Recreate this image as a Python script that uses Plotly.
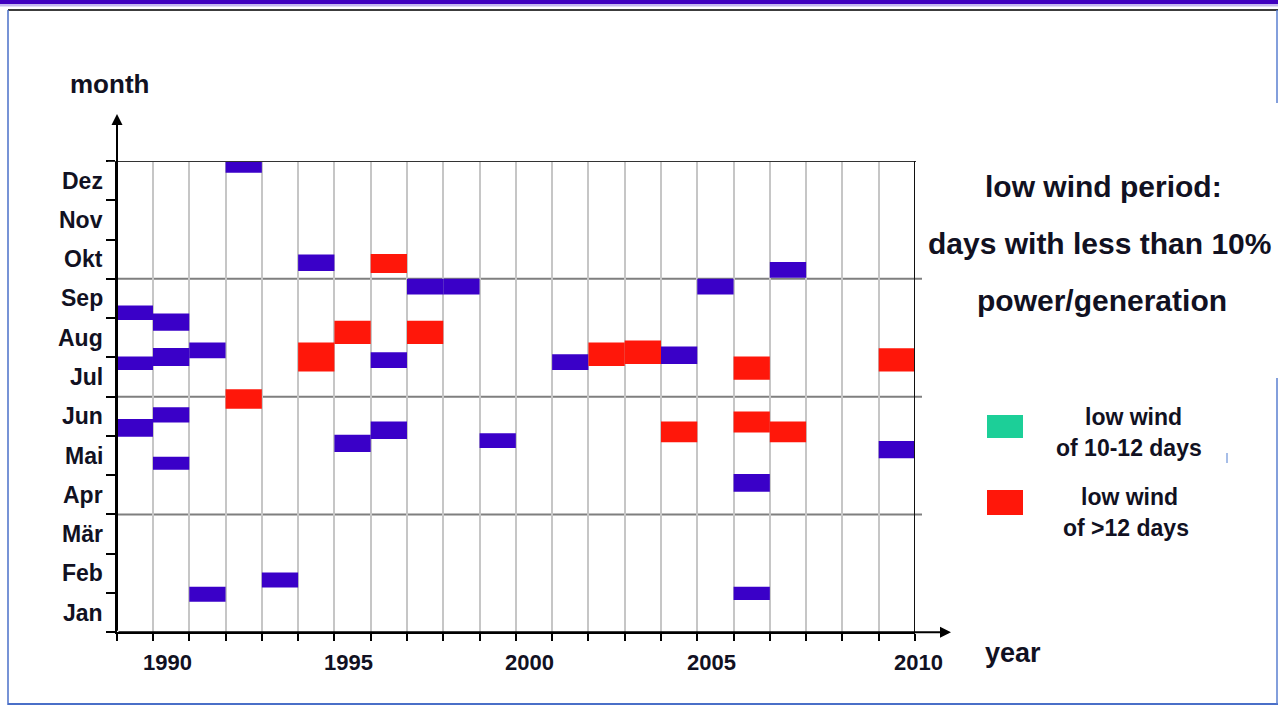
import plotly.graph_objects as go

W, H = 1278, 707

# ---------------- data ----------------
months = ["Jan", "Feb", "Mär", "Apr", "Mai", "Jun", "Jul", "Aug", "Sep", "Okt", "Nov", "Dez"]
year_ticks = [1990, 1995, 2000, 2005, 2010]

# low wind periods (month position: 0 = start of Jan, 12 = end of Dez)
blue_years = [1992, 1994, 1997, 1998, 1989, 1990, 1991, 1990, 1989, 1996, 2001, 2004, 2005,
              2007, 1989, 1990, 1990, 1995, 1996, 1999, 1991, 1993, 2010, 2006, 2006]
blue_start = [11.70, 9.20, 8.60, 8.60, 7.95, 7.68, 6.98, 6.78, 6.68, 6.73, 6.68, 6.83, 8.60,
              9.03, 4.98, 5.34, 4.14, 4.59, 4.92, 4.69, 0.78, 1.14, 4.43, 3.58, 0.82]
blue_end = [12.00, 9.62, 9.00, 9.00, 8.32, 8.12, 7.38, 7.24, 7.02, 7.13, 7.08, 7.28, 9.00,
            9.43, 5.43, 5.73, 4.47, 5.03, 5.37, 5.07, 1.16, 1.52, 4.87, 4.03, 1.16]

# low wind of 10-12 days (none shown)
green_years = []
green_start = []
green_end = []

# low wind of >12 days
red_years = [1996, 1995, 1997, 1994, 1992, 2002, 2003, 2006, 2010, 2004, 2006, 2007]
red_start = [9.15, 7.34, 7.34, 6.64, 5.69, 6.78, 6.83, 6.43, 6.64, 4.84, 5.09, 4.84]
red_end = [9.63, 7.93, 7.93, 7.38, 6.19, 7.38, 7.43, 7.02, 7.23, 5.37, 5.62, 5.37]

BLUE = "#3a00c8"
GREEN = "#1ccf98"
RED = "#ff170a"
FONT = "Liberation Sans, Arial, sans-serif"
TXT = "#111122"


def px(x):
    return x / W


def py(y):
    return 1 - y / H


fig = go.Figure()


def add_bars(years, start, end, color):
    fig.add_trace(go.Bar(
        x=years,
        y=[e - s for s, e in zip(start, end)],
        base=start,
        width=1,
        marker=dict(color=color, line=dict(width=0)),
        showlegend=False,
        hoverinfo="skip",
    ))


add_bars(blue_years, blue_start, blue_end, BLUE)
add_bars(green_years, green_start, green_end, GREEN)
add_bars(red_years, red_start, red_end, RED)

x0_px, x1_px = 116.7, 915.0
y_bot_px, y_top_px = 632.3, 161.0

shapes = []
annotations = []

# quarter lines
for q in [3, 6, 9]:
    shapes.append(dict(type="line", xref="paper", yref="y", x0=px(117), x1=px(922), y0=q, y1=q,
                       line=dict(color="#7f7f7f", width=2), layer="below"))
# top frame line
shapes.append(dict(type="line", xref="paper", yref="y", x0=px(108), x1=px(916), y0=12, y1=12,
                   line=dict(color="#333333", width=2)))
# right frame line
shapes.append(dict(type="line", xref="x", yref="y", x0=2010.5, x1=2010.5, y0=0, y1=12,
                   line=dict(color="#111111", width=2)))

# page decorations
shapes += [
    dict(type="rect", xref="paper", yref="paper", x0=0, x1=1, y0=py(4), y1=1,
         fillcolor="#4000bf", line=dict(width=0)),
    dict(type="rect", xref="paper", yref="paper", x0=0, x1=1, y0=py(6.5), y1=py(4),
         fillcolor="#c4b8ee", line=dict(width=0)),
    dict(type="line", xref="paper", yref="paper", x0=px(8), x1=1, y0=py(10), y1=py(10),
         line=dict(color="#3c3c3c", width=2)),
    dict(type="line", xref="paper", yref="paper", x0=px(8), x1=px(8), y0=py(10), y1=py(705),
         line=dict(color="#4a6fc8", width=1.5)),
    dict(type="line", xref="paper", yref="paper", x0=px(8), x1=1, y0=py(704), y1=py(704),
         line=dict(color="#4a6fc8", width=2)),
    dict(type="line", xref="paper", yref="paper", x0=px(1277), x1=px(1277), y0=py(10), y1=py(103),
         line=dict(color="#5a7fd0", width=1.5)),
    dict(type="line", xref="paper", yref="paper", x0=px(1277), x1=px(1277), y0=py(378), y1=py(704),
         line=dict(color="#5a7fd0", width=1.5)),
    dict(type="line", xref="paper", yref="paper", x0=px(1227), x1=px(1227), y0=py(453), y1=py(463),
         line=dict(color="#8aa8e0", width=1.5)),
]

# legend swatches
shapes += [
    dict(type="rect", xref="paper", yref="paper", x0=px(987), x1=px(1023), y0=py(438), y1=py(415),
         fillcolor=GREEN, line=dict(width=0)),
    dict(type="rect", xref="paper", yref="paper", x0=px(987), x1=px(1023), y0=py(515), y1=py(490),
         fillcolor=RED, line=dict(width=0)),
]

# axis arrows
annotations.append(dict(xref="paper", yref="paper", x=px(951), y=py(y_bot_px), ax=-(951 - 117), ay=0,
                        axref="pixel", ayref="pixel", text="", showarrow=True, arrowhead=2,
                        arrowsize=1.1, arrowwidth=2, arrowcolor="#000000"))
annotations.append(dict(xref="paper", yref="paper", x=px(117), y=py(114), ax=0, ay=(y_bot_px - 114),
                        axref="pixel", ayref="pixel", text="", showarrow=True, arrowhead=2,
                        arrowsize=1.1, arrowwidth=2, arrowcolor="#000000"))

# month labels
for i, m in enumerate(months):
    annotations.append(dict(xref="paper", yref="y", x=px(105), y=i + 0.5, text="<b>%s</b>" % m,
                            showarrow=False, xanchor="right", yanchor="middle",
                            font=dict(family=FONT, size=23, color=TXT)))

# year labels
for yv in year_ticks:
    shift = 22 if yv == year_ticks[-1] else -4
    annotations.append(dict(xref="x", yref="paper", x=yv, y=py(662), xshift=shift, text="<b>%d</b>" % yv,
                            showarrow=False, xanchor="center", yanchor="middle",
                            font=dict(family=FONT, size=22, color=TXT)))

# axis titles
annotations.append(dict(xref="paper", yref="paper", x=px(109), y=py(84), text="<b>month</b>",
                        showarrow=False, xanchor="center", yanchor="middle",
                        font=dict(family=FONT, size=26, color=TXT)))
annotations.append(dict(xref="paper", yref="paper", x=px(1013), y=py(653), text="<b>year</b>",
                        showarrow=False, xanchor="center", yanchor="middle",
                        font=dict(family=FONT, size=27, color=TXT)))

# legend title
for txt, yc, xc in [("low wind period:", 187, 1103), ("days with less than 10%", 243, 1099),
                    ("power/generation", 301, 1102)]:
    annotations.append(dict(xref="paper", yref="paper", x=px(xc), y=py(yc), text="<b>%s</b>" % txt,
                            showarrow=False, xanchor="center", yanchor="middle",
                            font=dict(family=FONT, size=30, color=TXT)))

# legend items
for txt, yc, xc in [("low wind", 417, 1133), ("of 10-12 days", 448, 1129),
                    ("low wind", 497, 1129), ("of >12 days", 528, 1126)]:
    annotations.append(dict(xref="paper", yref="paper", x=px(xc), y=py(yc), text="<b>%s</b>" % txt,
                            showarrow=False, xanchor="center", yanchor="middle",
                            font=dict(family=FONT, size=23, color=TXT)))

half_years = [1988.5 + k for k in range(23)]

fig.update_layout(
    width=W, height=H,
    margin=dict(l=0, r=0, t=0, b=0),
    paper_bgcolor="white", plot_bgcolor="white",
    barmode="overlay",
    showlegend=False,
    shapes=shapes,
    annotations=annotations,
    xaxis=dict(domain=[px(x0_px), px(x1_px)], range=[1988.5, 2010.5], tickvals=half_years,
               showticklabels=False, ticks="outside", ticklen=7, tickwidth=2, tickcolor="#000000",
               showgrid=True, gridcolor="#c6c6c6", gridwidth=1.5, zeroline=False,
               showline=True, linecolor="#000000", linewidth=2, fixedrange=True),
    yaxis=dict(domain=[py(y_bot_px), py(y_top_px)], range=[0, 12], tickvals=list(range(13)),
               showticklabels=False, ticks="outside", ticklen=9, tickwidth=2, tickcolor="#000000",
               showgrid=False, zeroline=False, showline=True, linecolor="#000000", linewidth=2,
               fixedrange=True),
)

fig.write_html("out.html", config={"displayModeBar": False},
               post_script="document.body.style.margin='0';document.body.style.overflow='hidden';")
